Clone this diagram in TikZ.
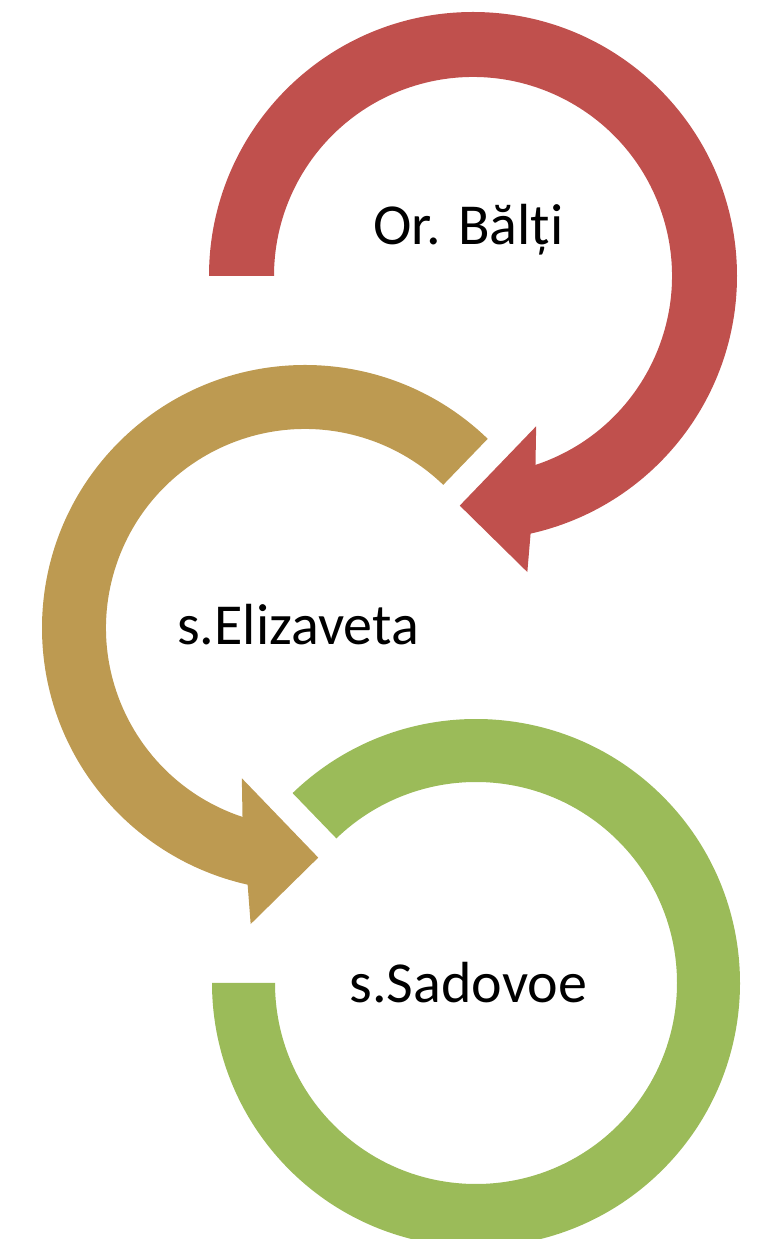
\documentclass[tikz,border=0pt]{standalone}
\usepackage{fontspec}
\setmainfont{Carlito}
\definecolor{redarc}{HTML}{C0504D}
\definecolor{olivearc}{HTML}{BD9A51}
\definecolor{greenarc}{HTML}{9BBB59}
\begin{document}
\begin{tikzpicture}[x=0.5pt,y=0.5pt,
  placename/.style={font=\fontsize{29}{35}\selectfont,anchor=base}]
\useasboundingbox (0,0) rectangle (758,1239);
\clip (0,0) rectangle (758,1239);
% Or. Balti
\begin{scope}[shift={(473,963)}]
\fill[redarc] (180:264) arc[start angle=180,end angle=-77.4,radius=264]
  -- (-79.6:301) -- (-93.3:230) -- (-67.2:163) -- (-71.7:199)
  arc[start angle=-71.7,end angle=180,radius=199] -- cycle;
\end{scope}
% s.Elizaveta
\begin{scope}[shift={(305,611)}]
\fill[olivearc] (46:263) arc[start angle=46,end angle=257.4,radius=263]
  -- (259.6:301) -- (273.3:230) -- (247.2:163) -- (251.7:199)
  arc[start angle=251.7,end angle=46,radius=199] -- cycle;
\end{scope}
% s.Sadovoe
\begin{scope}[shift={(476,256)}]
\fill[greenarc] (134:264) arc[start angle=134,end angle=-180,radius=264]
  -- (180:201) arc[start angle=-180,end angle=134,radius=201] -- cycle;
\end{scope}
% nume
\node[placename] (balti) at (468.5,994) {Or. Bălți};
\node[placename] (elizaveta) at (298,594) {s.Elizaveta};
\node[placename] (sadovoe) at (468.5,236) {s.Sadovoe};
\end{tikzpicture}
\end{document}
